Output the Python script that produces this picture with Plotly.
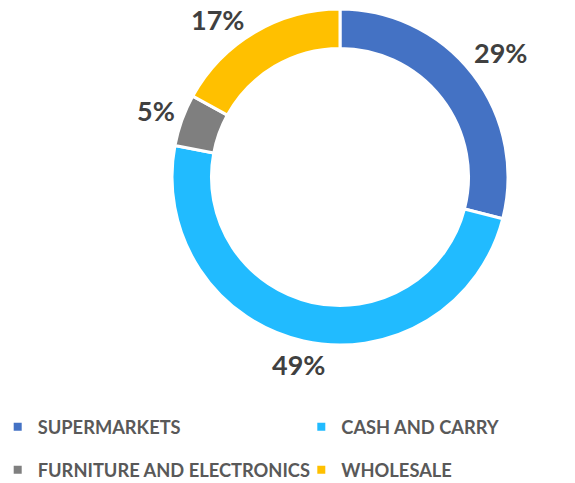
import math
import plotly.graph_objects as go

categories = ["SUPERMARKETS", "CASH AND CARRY", "FURNITURE AND ELECTRONICS", "WHOLESALE"]
shares = [29, 49, 5, 17]
colors = ["#4472C4", "#21BBFF", "#7F7F7F", "#FFC000"]

W, H = 575, 483
# donut placement in pixels (centre and outer radius)
CX, CY, R = 340, 177, 168
GAP = 6          # space between ring and label box
HALF_H = 12      # half height of a label box
TOP = 7          # keep labels below the top edge


def label_xy(theta, half_w):
    # put the label box just outside the ring on the slice's mid angle
    s, c = math.sin(theta), math.cos(theta)
    d = R + GAP + half_w * abs(s) + HALF_H * abs(c)
    x, y = CX + d * s, CY - d * c
    if y - HALF_H < TOP:
        # pushed down to stay inside the chart, then slid sideways to clear the ring
        y = TOP + HALF_H
        dy = CY - (y + HALF_H)
        dx = math.sqrt(max((R + GAP) ** 2 - dy ** 2, 0))
        x = CX + math.copysign(dx + half_w, s)
    return x, y


fig = go.Figure()
fig.add_trace(go.Pie(
    labels=categories,
    values=shares,
    hole=0.765,
    sort=False,
    direction="clockwise",
    rotation=0,
    marker=dict(colors=colors, line=dict(color="white", width=3)),
    textinfo="none",
    domain=dict(x=[(CX - R) / W, (CX + R) / W], y=[1 - (CY + R) / H, 1 - (CY - R) / H]),
    automargin=False,
    showlegend=False,
    hoverinfo="label+percent",
))

# percentage labels outside the ring
total = sum(shares)
start = 0.0
for v in shares:
    mid = (start + v / 2) / total * 2 * math.pi
    start += v
    text = f"{v}%"
    px, py = label_xy(mid, 9.2 * len(text))
    fig.add_annotation(
        x=px / W, y=1 - py / H, xref="paper", yref="paper",
        text=text, showarrow=False,
        xanchor="center", yanchor="middle",
        font=dict(family="Lato", size=27, color="#404040", weight="bold"),
    )

# legend entries: one small legend per entry, laid out in two columns
legend_names = ["legend", "legend2", "legend3", "legend4"]
legend_pos = [(-0.004, 0.116), (0.524, 0.116), (-0.004, 0.027), (0.524, 0.027)]
for name, col, lg in zip(categories, colors, legend_names):
    fig.add_trace(go.Scatter(
        x=[None], y=[None], mode="markers", name=name,
        marker=dict(symbol="square", size=8, color=col),
        legend=lg, showlegend=True, hoverinfo="skip",
    ))

legend_style = dict(
    xanchor="left", yanchor="middle",
    bgcolor="rgba(0,0,0,0)",
    font=dict(family="Lato", size=18.3, color="#595959", weight="bold"),
)
fig.update_layout(
    width=W, height=H,
    margin=dict(l=0, r=0, t=0, b=0, autoexpand=False),
    paper_bgcolor="white",
    plot_bgcolor="white",
    font=dict(family="Lato", color="#595959"),
    xaxis=dict(visible=False),
    yaxis=dict(visible=False),
    **{lg: dict(x=px, y=py, **legend_style) for lg, (px, py) in zip(legend_names, legend_pos)},
)

fig.write_html(
    "out.html",
    config={"displayModeBar": False},
    post_script="document.body.style.margin='0px';",
)
